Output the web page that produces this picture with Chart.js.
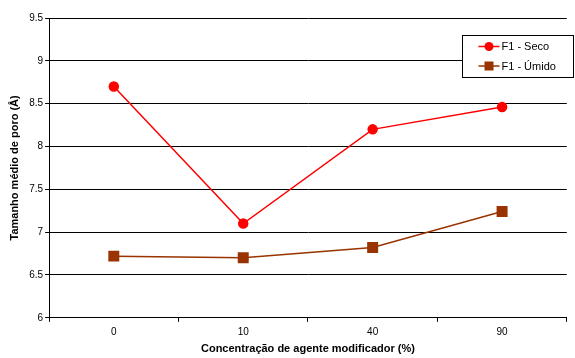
<!DOCTYPE html>
<html>
<head>
<meta charset="utf-8">
<script src="https://cdn.jsdelivr.net/npm/chart.js@4/dist/chart.umd.min.js"></script>
<style>
  html, body { margin: 0; padding: 0; background: #fff; }
  #wrap { width: 575px; height: 358px; }
</style>
</head>
<body>
<div id="wrap"><canvas id="c" width="575" height="358"></canvas></div>
<script>
// data
const categories = ['0', '10', '40', '90'];
const seco = [8.70, 7.10, 8.20, 8.46];
const umido = [6.72, 6.70, 6.82, 7.24];
const seriesNames = ['F1 - Seco', 'F1 - Úmido'];
const yTicks = [6, 6.5, 7, 7.5, 8, 8.5, 9, 9.5];

const fontFamily = '"Liberation Sans", Arial, sans-serif';

// legend box drawn inside the plot, like the spreadsheet one
const boxLegend = {
	id: 'boxLegend',
	afterDraw(chart){
		const ctx = chart.ctx;
		const x = 462.5, y = 35.5, w = 111, h = 42;
		ctx.save();
		ctx.fillStyle = '#fff';
		ctx.fillRect(x, y, w, h);
		ctx.strokeStyle = '#000';
		ctx.lineWidth = 1;
		ctx.strokeRect(x, y, w, h);
		ctx.font = '11px ' + fontFamily;
		ctx.textBaseline = 'middle';
		chart.data.datasets.forEach((ds, i) => {
			const ly = y + 11 + i * 19.5;
			ctx.strokeStyle = ds.borderColor;
			ctx.lineWidth = 1.5;
			ctx.beginPath();
			ctx.moveTo(x + 16, ly);
			ctx.lineTo(x + 37, ly);
			ctx.stroke();
			ctx.fillStyle = ds.pointBackgroundColor;
			if(ds.pointStyle === 'rect'){
				ctx.fillRect(x + 22, ly - 4.5, 9, 9);
			}else{
				ctx.beginPath();
				ctx.arc(x + 26.5, ly, 4.5, 0, Math.PI * 2);
				ctx.fill();
			}
			ctx.fillStyle = '#000';
			ctx.fillText(ds.label, x + 39, ly + 0.5);
		});
		ctx.restore();
	}
};

new Chart(document.getElementById('c'), {
	type: 'line',
	data: {
		labels: categories,
		datasets: [
			{
				label: seriesNames[0],
				data: seco,
				borderColor: '#ff0000',
				backgroundColor: '#ff0000',
				pointBackgroundColor: '#ff0000',
				pointBorderColor: '#ff0000',
				pointStyle: 'circle',
				pointRadius: 4.5,
				borderWidth: 1.5,
				tension: 0
			},
			{
				label: seriesNames[1],
				data: umido,
				borderColor: '#993300',
				backgroundColor: '#993300',
				pointBackgroundColor: '#993300',
				pointBorderColor: '#993300',
				pointStyle: 'rect',
				pointRadius: 6.7,
				borderWidth: 1.5,
				tension: 0
			}
		]
	},
	options: {
		responsive: false,
		animation: false,
		layout: { padding: { left: 8, top: 18, right: -12, bottom: 2 } },
		plugins: {
			legend: { display: false },
			tooltip: { enabled: false }
		},
		scales: {
			x: {
				offset: true,
				grid: {
					offset: true,
					drawOnChartArea: false,
					drawTicks: true,
					tickLength: 4,
					color: '#000'
				},
				border: { color: '#000', width: 1 },
				ticks: { color: '#000', font: { family: fontFamily, size: 10 }, padding: 4 },
				title: {
					display: true,
					text: 'Concentração de agente modificador (%)',
					color: '#000',
					font: { family: fontFamily, size: 11, weight: 'bold' },
					padding: { top: 1, bottom: 0 }
				}
			},
			y: {
				min: 6,
				max: 9.5,
				afterBuildTicks(axis){ axis.ticks = yTicks.map(v => ({ value: v })); },
				grid: { color: '#000', tickLength: 4, lineWidth: 1 },
				border: { color: '#000', width: 1 },
				ticks: { color: '#000', font: { family: fontFamily, size: 10 }, padding: 2,
					callback: v => String(v) },
				title: {
					display: true,
					text: 'Tamanho médio de poro (Å)',
					color: '#000',
					font: { family: fontFamily, size: 11, weight: 'bold' },
					padding: { top: 0, bottom: 6 }
				}
			}
		}
	},
	plugins: [boxLegend]
});
</script>
</body>
</html>
